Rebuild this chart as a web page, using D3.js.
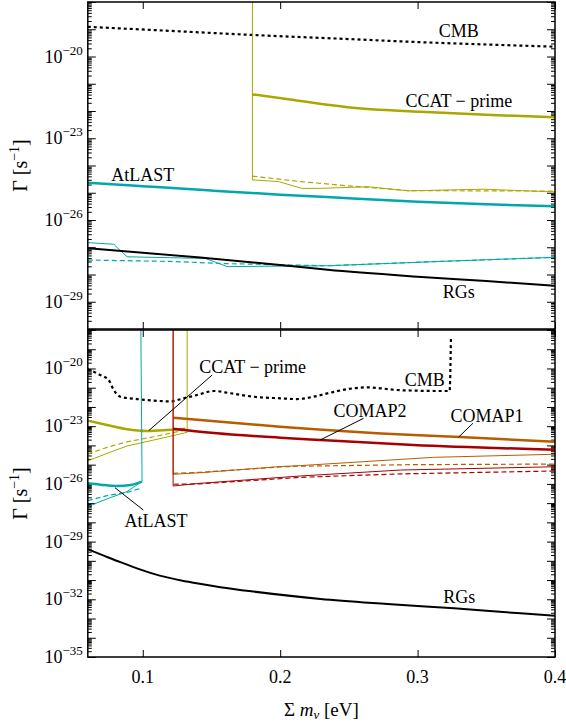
<!DOCTYPE html>
<html>
<head>
<meta charset="utf-8">
<script src="https://cdn.jsdelivr.net/npm/d3@7"></script>
<style>
  html, body { margin: 0; padding: 0; background: #fff; }
  svg { display: block; font-family: "Liberation Serif", "DejaVu Serif", serif; }
</style>
</head>
<body>
<svg id="chart" width="566" height="725"></svg>
<script>
// Decay-rate sensitivity vs. summed neutrino mass. Each series is a list of
// [Σm_ν (eV), log10 Γ (s^-1)] pairs.

// ---------- upper panel ----------
const topCMB      = [[0.06,-18.91],[0.12,-19.06],[0.18,-19.21],[0.25,-19.36],[0.30,-19.47],[0.35,-19.56],[0.40,-19.64]];
const topCCAT     = [[0.1798,-21.39],[0.21,-21.60],[0.249,-21.86],[0.302,-22.03],[0.35,-22.14],[0.40,-22.23]];
const topCCATThin = [[0.1798,-17.0],[0.1798,-24.53],[0.1988,-24.59],[0.2157,-24.84],[0.2279,-24.84],[0.2639,-24.78],[0.2930,-24.93],[0.3480,-24.87],[0.40,-24.97]];
const topCCATDash = [[0.1798,-24.39],[0.2145,-24.59],[0.2505,-24.75],[0.2930,-24.92],[0.40,-24.94]];
const topAtLAST     = [[0.06,-24.63],[0.10,-24.76],[0.15,-24.92],[0.20,-25.07],[0.234,-25.16],[0.30,-25.33],[0.35,-25.42],[0.40,-25.50]];
const topAtLASTThin = [[0.06,-26.83],[0.0789,-26.89],[0.0886,-27.35],[0.1456,-27.41],[0.1614,-27.71],[0.2342,-27.68],[0.3165,-27.52],[0.40,-27.37]];
const topAtLASTDash = [[0.06,-27.47],[0.12,-27.52],[0.16,-27.60],[0.2342,-27.68],[0.3165,-27.52],[0.40,-27.37]];
const topRGs = [[0.06,-27.04],[0.10,-27.20],[0.1418,-27.38],[0.20,-27.65],[0.2346,-27.83],[0.30,-28.08],[0.35,-28.24],[0.40,-28.41]];

// ---------- lower panel ----------
const botCMB = [[0.06,-20.04],[0.0691,-20.34],[0.0752,-20.60],[0.0789,-21.12],[0.0837,-21.47],[0.0958,-21.59],[0.1080,-21.67],
  [0.1201,-21.71],[0.1298,-21.55],[0.1395,-21.38],[0.1517,-21.17],[0.1638,-21.29],[0.1808,-21.47],[0.20,-21.55],[0.2121,-21.59],
  [0.2242,-21.47],[0.2364,-21.26],[0.2486,-21.08],[0.2631,-20.98],[0.2728,-21.03],[0.2850,-21.12],[0.2971,-21.15],[0.3116,-21.17],
  [0.3233,-21.17],[0.3243,-18.31]];
const botCCAT     = [[0.06,-22.71],[0.074,-22.94],[0.0886,-23.16],[0.1031,-23.25],[0.1177,-23.20],[0.131,-23.13]];
const botCCATThin = [[0.06,-24.81],[0.074,-24.41],[0.0886,-24.03],[0.108,-23.72],[0.1323,-23.32],[0.1323,-17.0]];
const botCCATDash = [[0.06,-24.45],[0.074,-24.10],[0.0886,-23.81],[0.108,-23.55],[0.131,-23.20]];
const botAtLAST     = [[0.06,-25.97],[0.0691,-26.04],[0.0813,-26.11],[0.091,-26.06],[0.0995,-25.88]];
const botAtLASTThin = [[0.06,-27.18],[0.074,-26.78],[0.0886,-26.40],[0.0995,-25.87],[0.0985,-17.0]];
const botAtLASTDash = [[0.06,-26.87],[0.074,-26.61],[0.0886,-26.44],[0.0985,-26.23]];
const botCOMAP1     = [[0.1221,-22.56],[0.1418,-22.68],[0.20,-23.03],[0.2971,-23.46],[0.3269,-23.55],[0.40,-23.81]];
const botCOMAP1Thin = [[0.1221,-17.0],[0.1221,-25.50],[0.1418,-25.42],[0.20,-25.10],[0.2146,-25.05],[0.3116,-24.62],[0.40,-24.46]];
const botCOMAP1Dash = [[0.1221,-25.45],[0.1418,-25.40],[0.20,-25.12],[0.2146,-25.08],[0.2971,-25.00],[0.40,-24.97]];
const botCOMAP2     = [[0.1221,-23.13],[0.1418,-23.29],[0.20,-23.60],[0.2291,-23.72],[0.297,-23.98],[0.40,-24.22]];
const botCOMAP2Thin = [[0.1221,-17.0],[0.1221,-26.11],[0.1418,-25.97],[0.2146,-25.59],[0.2875,-25.28],[0.40,-25.11]];
const botCOMAP2Dash = [[0.1225,-26.02],[0.1418,-26.00],[0.2146,-25.66],[0.2875,-25.48],[0.40,-25.33]];
const botRGs = [[0.06,-29.40],[0.0716,-29.73],[0.0837,-30.07],[0.0958,-30.39],[0.108,-30.68],[0.1322,-31.08],[0.1565,-31.37],
  [0.1808,-31.60],[0.2293,-31.98],[0.2779,-32.24],[0.3265,-32.47],[0.375,-32.73],[0.40,-32.85]];

// ---------- axes ----------
const massDomain = [0.06, 0.4];
const massTicks = [0.1, 0.2, 0.3, 0.4];
const massTickLabels = ["0.1", "0.2", "0.3", "0.4"];
const topDecades = [-30, -18];
const botDecades = [-35, -18];
const topLabelled = [-20, -23, -26, -29];
const botLabelled = [-20, -23, -26, -29, -32, -35];

// ---------- annotations: [text, Σm_ν, log10 Γ] ----------
const topLabels = [["CMB", 0.33, -19.30], ["CCAT − prime", 0.33, -21.86], ["AtLAST", 0.1, -24.57], ["RGs", 0.33, -28.87]];
const botLabels = [["CCAT − prime", 0.18, -20.22], ["CMB", 0.3052, -20.91], ["COMAP2", 0.2653, -22.54],
                   ["COMAP1", 0.3505, -22.77], ["AtLAST", 0.1097, -28.22], ["RGs", 0.3304, -32.20]];
const botLeaders = [[[0.1505,-20.34],[0.1044,-23.23]], [[0.2607,-22.59],[0.2291,-23.72]],
                    [[0.3403,-22.85],[0.3298,-23.57]], [[0.1004,-27.36],[0.0798,-26.20]]];

const C = { ccat: "#a9a800", atlast: "#00a9a9", comap1: "#b85c00", comap2: "#a80000", black: "#000" };
const FS = 18, FS_SUP = 13;

const svg = d3.select("#chart");
const left = 87.8, right = 555;
const x = d3.scaleLinear().domain(massDomain).range([left, right]);

function panel(id, y0, y1, decades, labelled, series, labels, leaders, showXLabels) {
  const y = d3.scaleLog().domain([10 ** decades[0], 10 ** decades[1]]).range([y1, y0]);
  const g = svg.append("g");
  g.append("clipPath").attr("id", id).append("rect")
    .attr("x", left).attr("y", y0).attr("width", right - left).attr("height", y1 - y0);

  const allDec = d3.range(decades[0], decades[1] + 1).map(d => 10 ** d);
  const minor = [];
  for (let d = decades[0]; d < decades[1]; d++) for (let k = 2; k <= 9; k++) minor.push(k * 10 ** d);

  const addAxis = (axis, tx, ty) => {
    const a = g.append("g").attr("transform", `translate(${tx},${ty})`).call(axis);
    a.select(".domain").remove();
    a.selectAll("line").attr("stroke", "#000").attr("stroke-width", 1);
    return a;
  };
  addAxis(d3.axisLeft(y).tickValues(allDec).tickSize(-8).tickFormat(""), left, 0);
  addAxis(d3.axisLeft(y).tickValues(minor).tickSize(-4).tickFormat(""), left, 0);
  addAxis(d3.axisRight(y).tickValues(allDec).tickSize(-8).tickFormat(""), right, 0);
  addAxis(d3.axisRight(y).tickValues(minor).tickSize(-4).tickFormat(""), right, 0);
  addAxis(d3.axisBottom(x).tickValues(massTicks).tickSize(-7).tickFormat(""), 0, y1);
  addAxis(d3.axisTop(x).tickValues(massTicks).tickSize(-7).tickFormat(""), 0, y0);

  // y tick labels 10^n
  labelled.forEach(n => {
    const t = g.append("text").attr("x", left - 5).attr("y", y(10 ** n) + 6)
      .attr("text-anchor", "end").attr("font-size", FS);
    t.append("tspan").text("10");
    t.append("tspan").attr("dy", -8).attr("font-size", FS_SUP).text("−" + Math.abs(n));
  });

  if (showXLabels) {
    massTicks.forEach((v, i) => {
      g.append("text").attr("x", x(v)).attr("y", y1 + 26).attr("text-anchor", "middle")
        .attr("font-size", FS).text(massTickLabels[i]);
    });
  }

  const plot = g.append("g").attr("clip-path", `url(#${id})`);
  series.forEach(s => {
    const line = d3.line().x(d => x(d[0])).y(d => y(10 ** d[1]))
      .curve(s.smooth ? d3.curveMonotoneX : d3.curveLinear);
    plot.append("path").attr("d", line(s.data)).attr("fill", "none")
      .attr("stroke", s.color).attr("stroke-width", s.w)
      .attr("stroke-dasharray", s.dash || null)
      .attr("stroke-linejoin", "round");
  });

  leaders.forEach(l => {
    g.append("line").attr("x1", x(l[0][0])).attr("y1", y(10 ** l[0][1]))
      .attr("x2", x(l[1][0])).attr("y2", y(10 ** l[1][1]))
      .attr("stroke", "#000").attr("stroke-width", 1);
  });
  labels.forEach(l => {
    g.append("text").attr("x", x(l[1])).attr("y", y(10 ** l[2])).attr("text-anchor", "middle")
      .attr("font-size", FS).text(l[0]);
  });

  // frame
  g.append("rect").attr("x", left).attr("y", y0).attr("width", right - left).attr("height", y1 - y0)
    .attr("fill", "none").attr("stroke", "#000").attr("stroke-width", 1.5);

  // y axis title
  const yt = g.append("text").attr("transform", `translate(27,${(y0 + y1) / 2}) rotate(-90)`)
    .attr("text-anchor", "middle").attr("font-size", 20);
  yt.append("tspan").text("Γ [s");
  yt.append("tspan").attr("dy", -8).attr("font-size", 14).text("−1");
  yt.append("tspan").attr("dy", 8).text("]");
}

panel("clipTop", 2, 329, topDecades, topLabelled, [
  { data: topCMB, color: C.black, w: 2.2, dash: "3,3", smooth: true },
  { data: topCCATThin, color: C.ccat, w: 1 },
  { data: topCCATDash, color: C.ccat, w: 1.2, dash: "5,3" },
  { data: topCCAT, color: C.ccat, w: 2.5, smooth: true },
  { data: topAtLASTThin, color: C.atlast, w: 1 },
  { data: topAtLASTDash, color: C.atlast, w: 1.2, dash: "5,3" },
  { data: topAtLAST, color: C.atlast, w: 2.5, smooth: true },
  { data: topRGs, color: C.black, w: 2, smooth: true }
], topLabels, [], false);

panel("clipBot", 330, 657, botDecades, botLabelled, [
  { data: botCMB, color: C.black, w: 2.2, dash: "3,3", smooth: true },
  { data: botCCATThin, color: C.ccat, w: 1 },
  { data: botCCATDash, color: C.ccat, w: 1.2, dash: "5,3" },
  { data: botCCAT, color: C.ccat, w: 2.5, smooth: true },
  { data: botAtLASTThin, color: C.atlast, w: 1 },
  { data: botAtLASTDash, color: C.atlast, w: 1.2, dash: "5,3" },
  { data: botAtLAST, color: C.atlast, w: 2.5, smooth: true },
  { data: botCOMAP1Thin, color: C.comap1, w: 1 },
  { data: botCOMAP1Dash, color: C.comap1, w: 1.2, dash: "5,3" },
  { data: botCOMAP1, color: C.comap1, w: 2.5, smooth: true },
  { data: botCOMAP2Thin, color: C.comap2, w: 1 },
  { data: botCOMAP2Dash, color: C.comap2, w: 1.2, dash: "5,3" },
  { data: botCOMAP2, color: C.comap2, w: 2.5, smooth: true },
  { data: botRGs, color: C.black, w: 2, smooth: true }
], botLabels, botLeaders, true);

// x axis title: Σ m_ν [eV]
const xt = svg.append("text").attr("x", (left + right) / 2).attr("y", 716)
  .attr("text-anchor", "middle").attr("font-size", 19);
xt.append("tspan").text("Σ ");
xt.append("tspan").attr("font-style", "italic").text("m");
xt.append("tspan").attr("font-style", "italic").attr("font-size", 13).attr("dy", 3).text("ν");
xt.append("tspan").attr("dy", -3).text(" [eV]");
</script>
</body>
</html>
